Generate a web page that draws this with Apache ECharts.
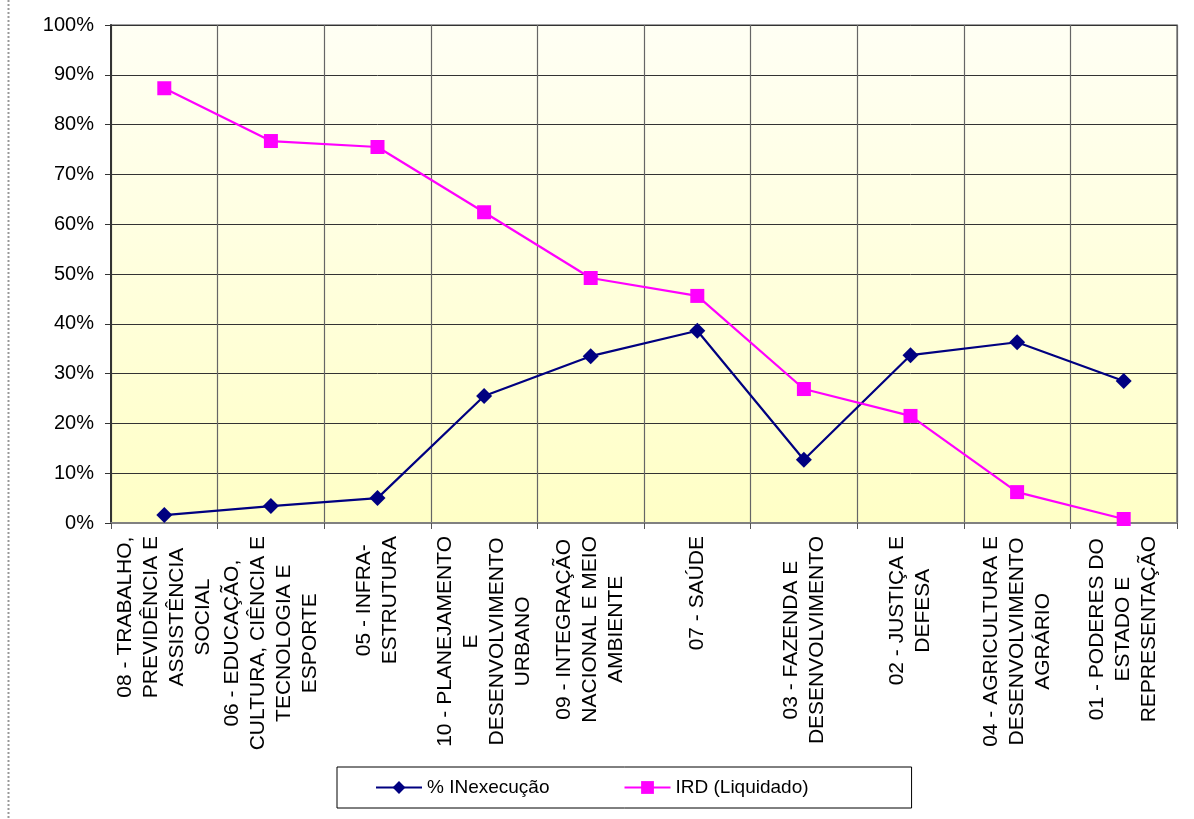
<!DOCTYPE html>
<html>
<head>
<meta charset="utf-8">
<style>
  html, body { margin: 0; padding: 0; background: #fff; }
  #chart { width: 1194px; height: 819px; }
</style>
<script src="https://cdn.jsdelivr.net/npm/echarts@6/dist/echarts.min.js"></script>
</head>
<body>
<div id="chart"></div>
<script>
  const categories = [
    '08 - TRABALHO,\nPREVIDÊNCIA E\nASSISTÊNCIA\nSOCIAL',
    '06 - EDUCAÇÃO,\nCULTURA, CIÊNCIA E\nTECNOLOGIA E\nESPORTE',
    '05 - INFRA-\nESTRUTURA',
    '10 - PLANEJAMENTO\nE\nDESENVOLVIMENTO\nURBANO',
    '09 - INTEGRAÇÃO\nNACIONAL E MEIO\nAMBIENTE',
    '07 - SAÚDE',
    '03 - FAZENDA E\nDESENVOLVIMENTO',
    '02 - JUSTIÇA E\nDEFESA',
    '04 - AGRICULTURA E\nDESENVOLVIMENTO\nAGRÁRIO',
    '01 - PODERES DO\nESTADO E\nREPRESENTAÇÃO'
  ]
  const inexecucao = [1.6, 3.4, 5.0, 25.5, 33.5, 38.6, 12.7, 33.7, 36.3, 28.5]
  const ird = [87.3, 76.7, 75.5, 62.4, 49.2, 45.6, 26.9, 21.5, 6.2, 0.8]
  const yTicks = { min: 0, max: 100, interval: 10 }

  const font = 'Liberation Sans, Arial, sans-serif'
  const myChart = echarts.init(document.getElementById('chart'))
  const option = {
    backgroundColor: '#fff',
    textStyle: { fontFamily: font },
    graphic: [
      {
        type: 'line',
        shape: { x1: 8.5, y1: 0, x2: 8.5, y2: 819 },
        style: { stroke: '#999', lineWidth: 2, lineDash: [2, 2] } // borda pontilhada
      }
    ],
    grid: {
      left: 111,
      right: 17,
      top: 25,
      bottom: 296,
      show: true,
      borderColor: '#808080',
      borderWidth: 1.5,
      backgroundColor: {
        type: 'linear', x: 0, y: 0, x2: 0, y2: 1,
        colorStops: [
          { offset: 0, color: '#FFFFF4' },
          { offset: 1, color: '#FFFFC6' }
        ]
      }
    },
    legend: {
      data: ['% INexecução', 'IRD (Liquidado)'],
      left: 337,
      top: 767,
      padding: [11, 103, 11, 38],
      itemGap: 74,
      itemWidth: 46,
      itemHeight: 16,
      borderColor: '#000',
      borderWidth: 1,
      textStyle: { fontSize: 19, color: '#000', fontFamily: font }
    },
    xAxis: {
      type: 'category',
      data: categories,
      boundaryGap: true,
      axisLine: { lineStyle: { color: '#808080', width: 2 } },
      axisTick: { show: true, length: 6, interval: 0, lineStyle: { color: '#555' } },
      splitLine: { show: true, interval: 0, lineStyle: { color: '#666', width: 1.2 } },
      axisLabel: {
        interval: 0,
        rotate: 90,
        margin: 13,
        color: '#000',
        fontSize: 21,
        lineHeight: 26,
        fontFamily: font,
        formatter: v => v.split('\n').map(l => '{c|' + l + '}').join('\n'),
        rich: {
          c: { align: 'center', fontSize: 21, lineHeight: 26, fontFamily: font, color: '#000' }
        }
      }
    },
    yAxis: {
      type: 'value',
      min: yTicks.min,
      max: yTicks.max,
      interval: yTicks.interval,
      axisLine: { show: true, lineStyle: { color: '#333', width: 2 } },
      axisTick: { show: true, length: 6, lineStyle: { color: '#333' } },
      splitLine: { show: true, lineStyle: { color: '#333', width: 1 } },
      axisLabel: {
        formatter: '{value}%',
        color: '#000',
        fontSize: 20,
        margin: 17,
        fontFamily: font
      }
    },
    series: [
      {
        name: '% INexecução',
        type: 'line',
        data: inexecucao,
        symbol: 'diamond',
        symbolSize: 16,
        lineStyle: { color: '#000080', width: 2.2 },
        itemStyle: { color: '#000080' }
      },
      {
        name: 'IRD (Liquidado)',
        type: 'line',
        data: ird,
        symbol: 'rect',
        symbolSize: 14,
        lineStyle: { color: '#FF00FF', width: 2.2 },
        itemStyle: { color: '#FF00FF' }
      }
    ]
  }
  option && myChart.setOption(option)
</script>
</body>
</html>
